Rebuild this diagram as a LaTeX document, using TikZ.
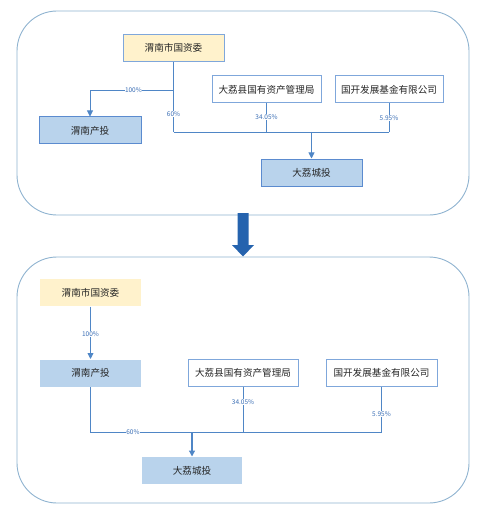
\documentclass[tikz,border=0pt]{standalone}
\usepackage{fontspec}
\setmainfont{Noto Sans CJK SC}
\usetikzlibrary{arrows.meta}
\definecolor{panelline}{HTML}{8FB3D0}
\definecolor{boxline}{HTML}{7FA7DB}
\definecolor{boxdark}{HTML}{5B8BCF}
\definecolor{yellowfill}{HTML}{FFF2CC}
\definecolor{bluefill}{HTML}{B9D3EC}
\definecolor{linkblue}{HTML}{4F86C6}
\definecolor{pctblue}{HTML}{3A6EB5}
\definecolor{bigarrow}{HTML}{2563AE}
\tikzset{
  panel/.style={draw=panelline, line width=0.9pt, rounded corners=40pt},
  entity/.style={draw=boxline, line width=1pt, fill=white, minimum height=27pt,
    inner sep=0pt, font=\fontsize{9.6pt}{11pt}\selectfont, text=black!85},
  owner/.style={entity, fill=yellowfill},
  held/.style={entity, fill=bluefill, draw=boxdark},
  link/.style={draw=linkblue, line width=0.9pt},
  arr/.style={link, -{Triangle[width=6pt,length=6pt]}},
  pct/.style={fill=white, inner sep=0.5pt, text=pctblue, font=\fontsize{6.5pt}{7pt}\selectfont}
}
\begin{document}
\begin{tikzpicture}[x=1pt,y=1pt,yscale=-1,xscale=1]
\useasboundingbox (0,0) rectangle (486,513);

%Rounded Rect top panel
    \draw[panel] (17,11) rectangle (469,215);
%Rounded Rect bottom panel
    \draw[panel] (17,257) rectangle (469,503);
%Down Arrow between panels
    \fill[bigarrow] (237.5,213) -- (248.5,213) -- (248.5,245) -- (254,245) -- (243,256.5) -- (232,245) -- (237.5,245) -- cycle;

% Text Node (before)
    \node[owner, minimum width=101pt] (gzw1) at (173.5,48) {渭南市国资委};
    \node[entity, minimum width=109pt] (dlj1) at (266.5,89.5) {大荔县国有资产管理局};
    \node[entity, minimum width=108pt] (gk1) at (389,89.5) {国开发展基金有限公司};
    \node[held, minimum width=102pt] (ct1) at (90,130.5) {渭南产投};
    \node[held, minimum width=101pt] (dlct1) at (311.5,172.5) {大荔城投};
    \coordinate (split1) at (173.5,90);
    \coordinate (bus1) at (311.5,132);

    \draw[link] (gzw1.south) -- (gzw1.south |- bus1) node[pct, pos=0.74] {60\%};
    \draw[arr] (split1) -| (ct1.north) node[pct, pos=0.24] {100\%};
    \draw[link] (dlj1.south) -- (dlj1.south |- bus1) node[pct, pos=0.48] {34.05\%};
    \draw[link] (gk1.south) -- (gk1.south |- bus1) node[pct, pos=0.52] {5.95\%};
    \draw[link] (gzw1.south |- bus1) -- (gk1.south |- bus1);
    \draw[arr] (bus1) -- (dlct1.north);

% Text Node (after)
    \node[owner, draw=none, minimum width=101pt] (gzw2) at (90.5,292.5) {渭南市国资委};
    \node[held, draw=none, minimum width=101pt] (ct2) at (90.5,373) {渭南产投};
    \node[entity, minimum width=110pt] (dlj2) at (243,373) {大荔县国有资产管理局};
    \node[entity, minimum width=111pt] (gk2) at (381.5,373) {国开发展基金有限公司};
    \node[held, draw=none, minimum width=100pt] (dlct2) at (192,470.5) {大荔城投};
    \coordinate (bus2) at (192,432);

    \draw[arr] (gzw2.south) -- (ct2.north) node[pct, pos=0.52] {100\%};
    \draw[link] (ct2.south) |- (gk2.south |- bus2) node[pct, pos=0.573] {60\%};
    \draw[link] (dlj2.south) -- (dlj2.south |- bus2) node[pct, pos=0.33] {34.05\%};
    \draw[link] (gk2.south) -- (gk2.south |- bus2) node[pct, pos=0.6] {5.95\%};
    \draw[arr, line width=1.3pt] (bus2) -- (dlct2.north);

\end{tikzpicture}
\end{document}
